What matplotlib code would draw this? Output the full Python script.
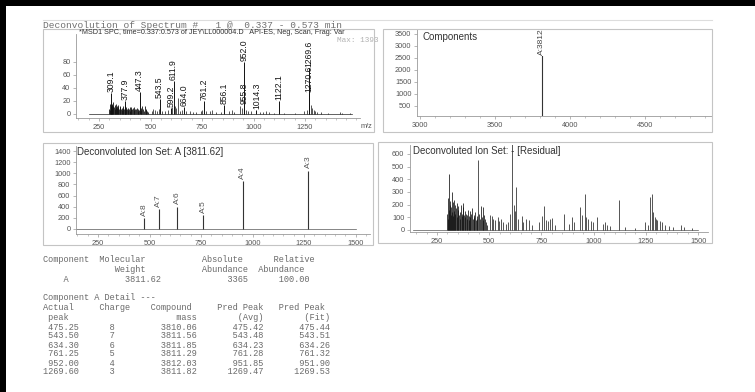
import matplotlib
matplotlib.use('Agg')
import matplotlib.pyplot as plt
from matplotlib.patches import Rectangle
from matplotlib.lines import Line2D
from matplotlib.ticker import MultipleLocator

plt.rcParams['font.family'] = ['Liberation Sans', 'DejaVu Sans']

W, H = 755, 392

# ---- data ----
# labelled peaks of the raw spectrum (% of max)
scan_label_mz = [309.1, 377.9, 447.3, 543.5, 599.2, 611.9, 664.0, 761.2,
                 856.1, 952.0, 955.8, 1014.3, 1122.1, 1269.6, 1270.6]
scan_label_pct = [33, 20, 34, 23, 9, 50, 11, 20,
                  14, 80, 14, 6, 20, 70, 32]

# dense region 300-490 (same m/z for raw and residual)
grass_mz = [300, 302, 304, 306, 308, 311, 313, 315, 318, 320,
            322, 325, 327, 330, 333, 335, 338, 341, 344, 347,
            350, 353, 356, 359, 362, 365, 368, 371, 374, 377,
            380, 383, 386, 389, 392, 395, 398, 401, 404, 407,
            410, 414, 418, 421, 425, 429, 433, 437, 441, 444,
            452, 456, 460, 464, 468, 472, 476, 480, 485, 490]
grass_raw_pct = [8, 16, 6, 11, 12, 14, 15, 9, 12, 19,
                 10, 14, 8, 15, 10, 13, 9, 11, 14, 7,
                 12, 10, 8, 9, 6, 13, 9, 7, 12, 13,
                 8, 10, 7, 9, 6, 8, 11, 5, 7, 10,
                 7, 9, 11, 6, 8, 7, 9, 5, 7, 6,
                 9, 6, 12, 7, 5, 12, 8, 6, 4, 3]
grass_res_cnt = [130, 250, 90, 160, 440, 200, 230, 120, 180, 300,
                 140, 220, 110, 240, 150, 200, 130, 170, 210, 100,
                 190, 160, 120, 140, 90, 200, 130, 110, 180, 210,
                 120, 150, 100, 130, 90, 120, 160, 80, 110, 150,
                 100, 130, 170, 90, 120, 100, 140, 80, 110, 90,
                 130, 90, 190, 100, 80, 180, 120, 90, 60, 40]

# other raw peaks (% of max)
raw_mz = [505, 512, 522, 530, 540, 556, 570, 585, 605, 618,
          625, 634, 645, 655, 672, 690, 705, 720, 745, 752,
          770, 790, 800, 820, 840, 880, 895, 905, 935, 942,
          965, 975, 990, 1030, 1045, 1060, 1075, 1100, 1150, 1200,
          1245, 1262, 1277, 1285, 1292, 1300, 1310, 1330, 1360, 1420,
          1430, 1470]
raw_pct = [5, 8, 6, 4, 7, 5, 4, 6, 10, 12,
           9, 24, 5, 6, 5, 4, 3, 3, 4, 6,
           4, 5, 6, 3, 3, 4, 6, 3, 12, 9,
           6, 5, 4, 3, 3, 4, 3, 2, 2, 2,
           4, 6, 14, 9, 6, 5, 3, 3, 2, 3,
           2, 1]

# residual peaks (counts)
res_mz = [447, 505, 512, 520, 530, 540, 548, 556, 565, 580,
          590, 599, 611, 618, 625, 630, 640, 655, 662, 675,
          690, 705, 740, 752, 760, 770, 780, 790, 800, 815,
          856, 880, 895, 905, 935, 942, 958, 965, 975, 985,
          995, 1015, 1045, 1055, 1065, 1080, 1122, 1150, 1200, 1245,
          1262, 1270, 1277, 1285, 1292, 1298, 1305, 1315, 1325, 1340,
          1360, 1380, 1420, 1430, 1470]
res_cnt = [550, 120, 110, 90, 80, 100, 70, 90, 60, 50,
           60, 130, 690, 200, 150, 340, 90, 110, 60, 90,
           80, 40, 60, 110, 190, 80, 70, 90, 95, 40,
           130, 50, 100, 60, 180, 120, 285, 100, 90, 70,
           60, 100, 50, 60, 40, 30, 240, 20, 15, 65,
           40, 260, 285, 140, 100, 90, 80, 70, 60, 40,
           30, 20, 40, 25, 15]

# deconvoluted ion set A
ion_mz = [475.25, 543.50, 634.30, 761.25, 952.00, 1269.60]
ion_height = [200, 360, 400, 250, 860, 1050]
ion_labels = ['A:8', 'A:7', 'A:6', 'A:5', 'A:4', 'A:3']

# components
comp_mass = [3811.62]
comp_abund = [3365]
comp_labels = ['A:3812']

# report table
actual_peak = [475.25, 543.50, 634.30, 761.25, 952.00, 1269.60]
charge = [8, 7, 6, 5, 4, 3]
compound_mass = [3810.06, 3811.56, 3811.85, 3811.29, 3812.03, 3811.82]
pred_avg = [475.42, 543.48, 634.23, 761.28, 951.85, 1269.47]
pred_fit = [475.44, 543.51, 634.26, 761.32, 951.90, 1269.53]

scan_range = [200, 1480]
res_range = [135, 1500]


def fx(px):
    return px / W


def fy(py):
    return 1 - py / H


def add_axes(l, t, r, b):
    return fig.add_axes([fx(l), fy(b), (r - l) / W, (b - t) / H])


def style(ax):
    for s in ['top', 'right']:
        ax.spines[s].set_visible(False)
    for s in ['left', 'bottom']:
        ax.spines[s].set_color('#9a9a9a')
        ax.spines[s].set_linewidth(0.6)
    ax.tick_params(which='major', direction='out', length=2.5, width=0.5,
                   colors='#9a9a9a', labelcolor='#555555', labelsize=5.3, pad=1.5)
    ax.tick_params(which='minor', direction='out', length=1.5, width=0.4,
                   colors='#9a9a9a')
    ax.patch.set_alpha(0)


fig = plt.figure(figsize=(W / 100, H / 100), dpi=100)
fig.patch.set_facecolor('white')

# scan border
fig.add_artist(Rectangle((0, fy(6)), 1, 6 / H, transform=fig.transFigure,
                         color='black', lw=0))
fig.add_artist(Rectangle((0, 0), 6 / W, 1, transform=fig.transFigure,
                         color='black', lw=0))

# panel frames
frames = [(43, 29, 374, 132), (383, 29, 712, 132),
          (43, 143, 373, 245), (378, 142, 712, 243)]
for l, t, r, b in frames:
    fig.add_artist(Rectangle((fx(l), fy(b)), (r - l) / W, (b - t) / H,
                             transform=fig.transFigure, fill=False,
                             ec='#c4c4c4', lw=0.8))
fig.add_artist(Line2D([fx(43), fx(712)], [fy(20), fy(20)],
                      transform=fig.transFigure, color='#dddddd', lw=0.8))

fig.text(fx(43), fy(25), 'Deconvolution of Spectrum #   1 @  0.337 - 0.573 min',
         family='Liberation Mono', fontsize=6.8, color='#707070', va='center')

# ---- raw spectrum ----
ax1 = add_axes(76, 34, 360, 118)
style(ax1)
ax1.plot(scan_range, [0, 0], color='#222222', lw=0.5)
ax1.vlines(grass_mz, 0, grass_raw_pct, color='#111111', lw=0.6)
ax1.vlines(raw_mz, 0, raw_pct, color='#111111', lw=0.5)
ax1.vlines(scan_label_mz, 0, scan_label_pct, color='#111111', lw=0.7)
for m, p in zip(scan_label_mz, scan_label_pct):
    ax1.text(m, p + 1.5, f'{m:.1f}', rotation=90, ha='center', va='bottom',
             fontsize=6.2, color='#151515')
ax1.set_xlim(138, 1517)
ax1.set_ylim(-6.2, 123)
ax1.set_xticks([250, 500, 750, 1000, 1250])
ax1.xaxis.set_minor_locator(MultipleLocator(50))
ax1.set_yticks([0, 20, 40, 60, 80])
fig.text(fx(366), fy(127), 'm/z', fontsize=5.3, color='#555555', ha='center', va='center')
fig.text(fx(212), fy(32.5), '*MSD1 SPC, time=0.337:0.573 of JEY\\LL000004.D   API-ES, Neg, Scan, Frag: Var',
         fontsize=5.2, color='#333333', ha='center', va='center')
fig.text(fx(337), fy(40), 'Max: 1393', family='Liberation Mono', fontsize=5.5,
         color='#b0b0b0', va='center')

# ---- components ----
ax2 = add_axes(417, 29, 712, 116)
style(ax2)
ax2.vlines(comp_mass, 0, comp_abund, color='#333333', lw=0.8)
for m, a, lab in zip(comp_mass, comp_abund, comp_labels):
    ax2.text(m, a - 200, lab, rotation=90, ha='center', va='center', fontsize=6,
             color='#444444', bbox=dict(fc='white', ec='none', pad=0.3))
ax2.set_xlim(2980, 4947)
ax2.set_ylim(83, 3708)
ax2.set_xticks([3000, 3500, 4000, 4500])
ax2.xaxis.set_minor_locator(MultipleLocator(100))
ax2.set_yticks(range(500, 3501, 500))
ax2.text(0.02, 0.97, 'Components', transform=ax2.transAxes, fontsize=7,
         color='#333333', va='top')

# ---- ion set ----
ax3 = add_axes(76, 146, 370, 234)
style(ax3)
ax3.plot(res_range, [0, 0], color='#555555', lw=0.5)
ax3.vlines(ion_mz, 0, ion_height, color='#333333', lw=0.8)
for m, h, lab in zip(ion_mz, ion_height, ion_labels):
    ax3.text(m, h + 40, lab, rotation=90, ha='center', va='bottom', fontsize=6,
             color='#555555')
ax3.set_xlim(143, 1570)
ax3.set_ylim(-90, 1490)
ax3.set_xticks([250, 500, 750, 1000, 1250, 1500])
ax3.xaxis.set_minor_locator(MultipleLocator(50))
ax3.set_yticks(range(0, 1401, 200))
ax3.text(0.005, 0.99, 'Deconvoluted Ion Set: A [3811.62]', transform=ax3.transAxes,
         fontsize=7, color='#333333', va='top')

# ---- residual ----
ax4 = add_axes(410, 145, 708, 232)
style(ax4)
ax4.plot(res_range, [0, 0], color='#555555', lw=0.5)
ax4.vlines(grass_mz, 0, grass_res_cnt, color='#111111', lw=0.55)
ax4.vlines(res_mz, 0, res_cnt, color='#111111', lw=0.5)
ax4.set_xlim(121, 1547)
ax4.set_ylim(-16, 671)
ax4.set_xticks([250, 500, 750, 1000, 1250, 1500])
ax4.xaxis.set_minor_locator(MultipleLocator(50))
ax4.set_yticks(range(0, 601, 100))
ax4.text(0.01, 0.99, 'Deconvoluted Ion Set: - [Residual]', transform=ax4.transAxes,
         fontsize=7, color='#333333', va='top')

# ---- report text ----
mono = dict(family='Liberation Mono', fontsize=6.2, color='#6a6a6a', va='center')
header = [
    'Component  Molecular           Absolute      Relative',
    '              Weight           Abundance  Abundance',
    '    A           3811.62             3365      100.00',
]
for i, line in enumerate(header):
    fig.text(fx(43), fy(259 + 10 * i), line, **mono)
fig.text(fx(43), fy(297), 'Component A Detail ---', **mono)
fig.text(fx(43), fy(307), 'Actual     Charge    Compound     Pred Peak   Pred Peak', **mono)
fig.text(fx(43), fy(317), ' peak                     mass        (Avg)        (Fit)', **mono)
for i in range(len(actual_peak)):
    row = (f'{actual_peak[i]:>7.2f}{charge[i]:>7d}{compound_mass[i]:>16.2f}'
           f'{pred_avg[i]:>13.2f}{pred_fit[i]:>13.2f}')
    fig.text(fx(43), fy(327 + 9 * i), row, **mono)

fig.savefig('out.png', dpi=100)
